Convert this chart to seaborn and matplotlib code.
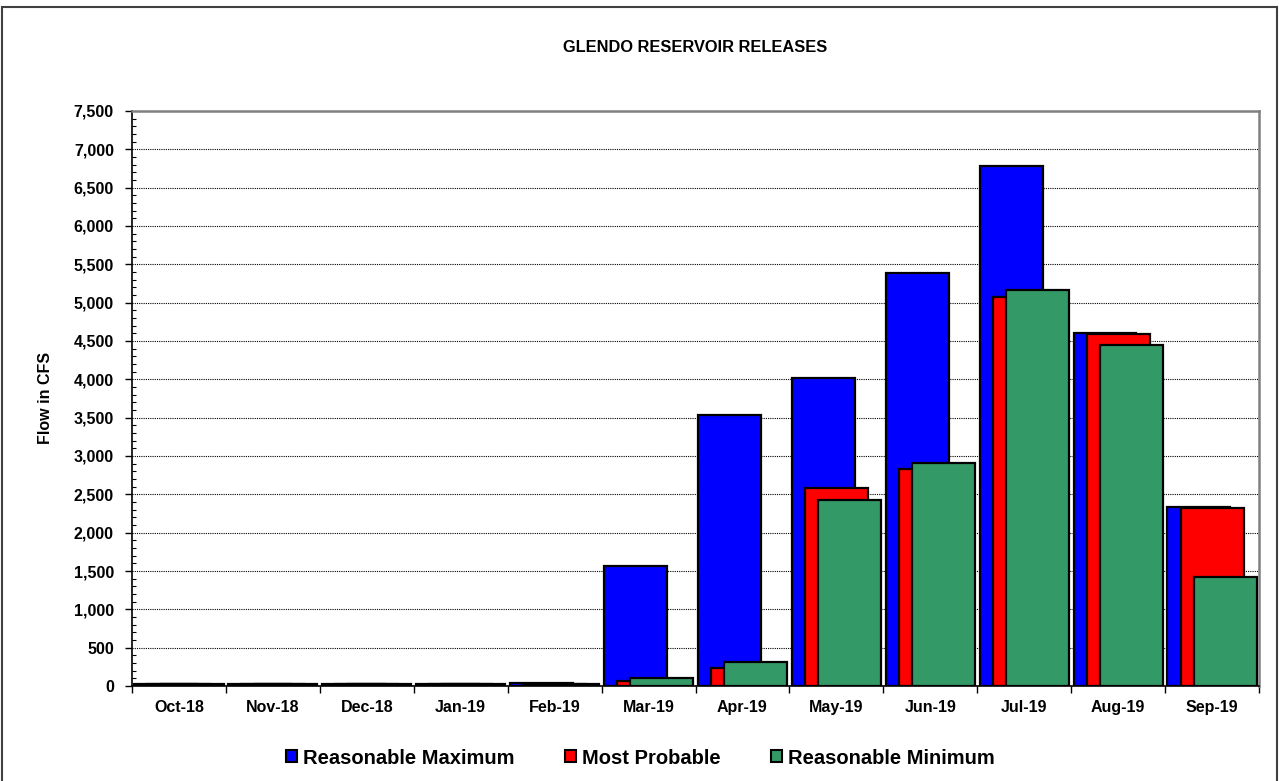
import matplotlib
matplotlib.use("Agg")
import matplotlib.pyplot as plt
import matplotlib.ticker as mticker
from matplotlib.patches import Patch, Rectangle
import seaborn as sns
import pandas as pd

months = ["Oct-18", "Nov-18", "Dec-18", "Jan-19", "Feb-19", "Mar-19",
          "Apr-19", "May-19", "Jun-19", "Jul-19", "Aug-19", "Sep-19"]
series_names = ["Reasonable Maximum", "Most Probable", "Reasonable Minimum"]
reasonable_max = [25, 25, 25, 25, 35, 1560, 3530, 4020, 5390, 6780, 4600, 2340]
most_probable = [25, 25, 25, 25, 25, 60, 230, 2580, 2830, 5080, 4590, 2320]
reasonable_min = [25, 25, 25, 25, 25, 110, 310, 2425, 2910, 5170, 4450, 1420]
colors = ["#0000FF", "#FF0000", "#339966"]

rows = []
for name, vals in zip(series_names, [reasonable_max, most_probable, reasonable_min]):
    for m, v in zip(months, vals):
        rows.append({"Month": m, "Flow": v, "Series": name})
df = pd.DataFrame(rows)

sns.set_style("white")
plt.rcParams["font.family"] = ["Liberation Sans", "DejaVu Sans"]
plt.rcParams["font.weight"] = "bold"
for k in ["text.color", "axes.labelcolor", "xtick.color", "ytick.color"]:
    plt.rcParams[k] = "black"

fig = plt.figure(figsize=(12.79, 7.81), dpi=100)
ax = fig.add_axes([132 / 1279, 1 - 686 / 781, 1127 / 1279, 575 / 781])

sns.barplot(data=df, x="Month", y="Flow", hue="Series", order=months,
            hue_order=series_names, palette=colors, width=0.42, dodge=True,
            edgecolor="black", linewidth=1.6, saturation=1, legend=False, ax=ax,
            errorbar=None)

# widen bars so they overlap (Excel-style overlapped columns)
bw = 0.67
for p in ax.patches:
    c = p.get_x() + p.get_width() / 2
    p.set_width(bw)
    p.set_x(c - bw / 2)

ax.set_xlim(-0.5, len(months) - 0.5)
ax.set_ylim(0, 7500)
ax.yaxis.set_major_locator(mticker.MultipleLocator(500))
ax.yaxis.set_minor_locator(mticker.MultipleLocator(100))
ax.yaxis.set_major_formatter(mticker.FuncFormatter(lambda v, p: f"{int(v):,}"))
ax.yaxis.grid(True, which="major", color="black", linestyle=(0, (1, 1)), linewidth=0.8)
ax.set_axisbelow(True)

ax.set_xticks([i - 0.5 for i in range(len(months) + 1)], minor=True)
ax.set_xticks(range(len(months)))
ax.set_xticklabels(months)
ax.tick_params(axis="x", which="major", length=0, pad=10, labelsize=11.5, labelcolor="black")
ax.tick_params(axis="x", which="minor", length=5, width=1, direction="out", color="black", bottom=True)
ax.tick_params(axis="y", which="major", length=5, width=1, direction="out", color="black",
               left=True, pad=8, labelsize=11.5, labelcolor="black")
ax.tick_params(axis="y", which="minor", length=3, width=0.8, direction="in", color="black", left=True)
for lab in ax.get_xticklabels() + ax.get_yticklabels():
    lab.set_fontweight("bold")

ax.set_xlabel("")
ax.set_ylabel("")
for s in ["left", "bottom"]:
    ax.spines[s].set_color("black")
    ax.spines[s].set_linewidth(1.2)
for s in ["top", "right"]:
    ax.spines[s].set_color("#808080")
    ax.spines[s].set_linewidth(1.8)

fig.text(695.5 / 1279, 1 - 47 / 781, "GLENDO RESERVOIR RELEASES", ha="center", va="center",
         fontsize=11.8, fontweight="bold", color="black")
fig.text(45 / 1279, 1 - 398 / 781, "Flow in CFS", ha="center", va="center", rotation=90,
         fontsize=11.5, fontweight="bold", color="black")

handles = [Patch(facecolor=c, edgecolor="black", linewidth=1.5) for c in colors]
leg = fig.legend(handles, series_names, loc="center", bbox_to_anchor=(640 / 1279, 1 - 758 / 781),
                 ncol=3, frameon=False, prop={"size": 14.5, "weight": "bold"},
                 handlelength=0.55, handleheight=0.55, handletextpad=0.3, columnspacing=2.5)
for t in leg.get_texts():
    t.set_color("black")

fig.patches.append(Rectangle((2 / 1279, -0.05), 1275 / 1279, 1 - 7 / 781 + 0.05,
                             transform=fig.transFigure, fill=False,
                             edgecolor="#404040", linewidth=1.5))

fig.savefig("out.png", dpi=100)
